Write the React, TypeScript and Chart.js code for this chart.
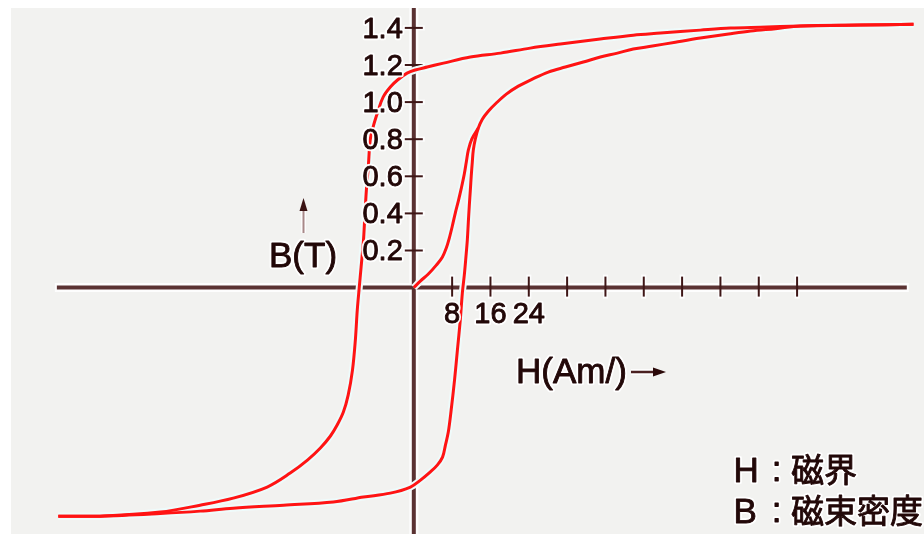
import { useEffect, useRef } from "react";
import { Chart, registerables } from "chart.js";

Chart.register(...registerables);

// Hysteresis loop of a soft magnetic material: H in A/m, B in T.
// Descending branch, from positive saturation down to negative saturation.
const descendingH = [104.3, 93.2, 80.7, 72.3, 66.1, 59.8, 51.5, 45.8, 38.9, 30.6, 24.3, 18.1, 11.8, 6.2, 2.8, 0.3, -1.4, -3.4, -4.9, -6.4, -7.4, -8.5, -9.1, -9.5, -9.9, -10.3, -10.5, -11.0, -11.4, -11.8, -12.2, -12.8, -13.7, -14.7, -16.0, -17.4, -19.5, -22.2, -25.8, -30.6, -37.7, -44.6, -52.9, -65.5, -74.2];
const descendingB = [1.42, 1.415, 1.41, 1.404, 1.399, 1.388, 1.372, 1.361, 1.34, 1.313, 1.291, 1.264, 1.243, 1.21, 1.189, 1.173, 1.156, 1.119, 1.081, 1.027, 0.957, 0.865, 0.795, 0.65, 0.526, 0.348, 0.256, 0.111, -0.003, -0.121, -0.283, -0.445, -0.58, -0.671, -0.741, -0.8, -0.865, -0.93, -1.0, -1.075, -1.135, -1.173, -1.21, -1.232, -1.232];

// Ascending branch, from negative saturation back up to positive saturation.
const ascendingH = [-74.2, -65.5, -52.9, -44.6, -37.7, -27.2, -16.8, -10.5, -4.9, -0.7, 1.4, 3.4, 4.9, 6.0, 6.6, 7.2, 7.8, 8.5, 9.1, 9.7, 10.13, 10.54, 10.86, 11.17, 11.38, 11.59, 11.8, 12.0, 12.21, 12.42, 12.84, 13.47, 14.3, 15.55, 17.22, 19.31, 21.82, 24.74, 28.08, 31.63, 35.39, 38.94, 42.5, 45.8, 49.8, 54.6, 59.8, 65.7, 70.3, 75.5, 80.7, 93.2, 104.3];
const ascendingB = [-1.232, -1.232, -1.218, -1.205, -1.189, -1.173, -1.156, -1.129, -1.108, -1.075, -1.038, -0.995, -0.957, -0.914, -0.849, -0.779, -0.66, -0.499, -0.337, -0.175, -0.03, 0.067, 0.159, 0.256, 0.353, 0.445, 0.526, 0.606, 0.677, 0.741, 0.801, 0.86, 0.908, 0.951, 0.995, 1.043, 1.086, 1.124, 1.162, 1.189, 1.216, 1.243, 1.264, 1.286, 1.302, 1.323, 1.345, 1.367, 1.383, 1.396, 1.41, 1.415, 1.42];

// Initial magnetisation curve from the demagnetised state.
const initialH = [0, 1.36, 3.03, 4.7, 5.95, 6.78, 7.41, 8.04, 8.66, 9.29, 9.92, 10.54, 10.96, 11.38, 12.1, 13.47];
const initialB = [0, 0.035, 0.073, 0.121, 0.164, 0.213, 0.267, 0.332, 0.402, 0.466, 0.536, 0.612, 0.677, 0.741, 0.801, 0.86];

// Axis ticks and labels
const hTickValues = [8, 16, 24, 32, 40, 48, 56, 64, 72, 80];
const hTickLabels = ["8", "16", "24"];
const bTickValues = [0.2, 0.4, 0.6, 0.8, 1.0, 1.2, 1.4];
const bTickLabels = ["0.2", "0.4", "0.6", "0.8", "1.0", "1.2", "1.4"];
const hAxisTitle = "H(Am/)";
const bAxisTitle = "B(T)";
const legendKeys = ["H", "B"];
const legendNames = ["磁界", "磁束密度"];

// Visible extent of the two axis lines (data units)
const H_AXIS_FROM = -74.5;
const H_AXIS_TO = 102.9;
const B_AXIS_FROM = 1.507;
const B_AXIS_TO = -1.33;

// Scale ranges
const H_MIN = -86.37;
const H_MAX = 106.49;
const B_MIN = -1.3283;
const B_MAX = 1.5504;

const RED = "#ff1414";
const HALO = "#effbfb";
const AXIS = "#5a3232";
const INK = "#220808";
const LATIN = '"Liberation Sans", Arial, sans-serif';
const CJK = '"Noto Sans CJK JP", "Noto Sans CJK SC", sans-serif';

const zip = (xs: number[], ys: number[]) => xs.map((x, i) => ({ x, y: ys[i] }));

// Text with a light outline, slightly emboldened
function haloText(ctx: CanvasRenderingContext2D, text: string, x: number, y: number) {
  ctx.lineJoin = "round";
  ctx.lineWidth = 4.5;
  ctx.strokeStyle = "rgba(255,255,255,0.95)";
  ctx.strokeText(text, x, y);
  ctx.fillStyle = INK;
  ctx.fillText(text, x, y);
  ctx.lineWidth = 0.9;
  ctx.strokeStyle = INK;
  ctx.strokeText(text, x, y);
}

function seg(ctx: CanvasRenderingContext2D, x1: number, y1: number, x2: number, y2: number, color: string, w: number) {
  ctx.beginPath();
  ctx.moveTo(x1, y1);
  ctx.lineTo(x2, y2);
  ctx.strokeStyle = color;
  ctx.lineWidth = w;
  ctx.stroke();
}

const crossAxes = {
  id: "crossAxes",
  beforeDraw(chart: any) {
    const { ctx, width, height } = chart;
    ctx.save();
    ctx.fillStyle = "#ffffff";
    ctx.fillRect(0, 0, width, height);
    ctx.fillStyle = "#f2f2f0";
    ctx.fillRect(11, 8, width - 11, height - 8);
    ctx.restore();
  },
  beforeDatasetsDraw(chart: any) {
    const { ctx } = chart;
    const X = chart.scales.x;
    const Y = chart.scales.y;
    const ox = X.getPixelForValue(0);
    const oy = Y.getPixelForValue(0);
    const xa = X.getPixelForValue(H_AXIS_FROM);
    const xb = X.getPixelForValue(H_AXIS_TO);
    const ya = Y.getPixelForValue(B_AXIS_FROM);
    const yb = Y.getPixelForValue(B_AXIS_TO);
    ctx.save();
    ctx.lineCap = "butt";
    // white halo behind the axes
    seg(ctx, xa - 2, oy, xb + 2, oy, "#fdfdfd", 9);
    seg(ctx, ox, ya, ox, yb, "#fdfdfd", 9);
    hTickValues.forEach((v) => {
      const px = X.getPixelForValue(v);
      seg(ctx, px, oy - 13, px, oy + 11, "#fdfdfd", 5);
    });
    bTickValues.forEach((v) => {
      const py = Y.getPixelForValue(v);
      seg(ctx, ox - 11, py, ox + 11, py, "#fdfdfd", 5);
    });
    // axis lines
    seg(ctx, xa, oy, xb, oy, AXIS, 4);
    seg(ctx, ox, ya, ox, yb, AXIS, 4);
    hTickValues.forEach((v) => {
      const px = X.getPixelForValue(v);
      seg(ctx, px, oy - 11, px, oy + 9, "#3e1616", 2);
    });
    bTickValues.forEach((v) => {
      const py = Y.getPixelForValue(v);
      seg(ctx, ox - 9, py, ox + 9, py, "#3e1616", 2);
    });
    ctx.restore();
  },
  afterDatasetsDraw(chart: any) {
    const { ctx } = chart;
    const X = chart.scales.x;
    const Y = chart.scales.y;
    const ox = X.getPixelForValue(0);
    const oy = Y.getPixelForValue(0);
    ctx.save();
    // B tick labels
    ctx.font = `29px ${LATIN}`;
    ctx.textAlign = "right";
    ctx.textBaseline = "alphabetic";
    bTickValues.forEach((v, i) => {
      haloText(ctx, bTickLabels[i], ox - 11, Y.getPixelForValue(v) + 10);
    });
    // H tick labels
    ctx.textAlign = "center";
    hTickLabels.forEach((t, i) => {
      haloText(ctx, t, X.getPixelForValue(hTickValues[i]), oy + 35);
    });
    // Axis titles
    ctx.font = `35px ${LATIN}`;
    ctx.textAlign = "left";
    haloText(ctx, bAxisTitle, 269, 267);
    haloText(ctx, hAxisTitle, 516, 383);

    // arrow above B(T)
    ctx.lineCap = "butt";
    seg(ctx, 303.5, 233, 303.5, 207, "#fdfdfd", 5);
    seg(ctx, 303.5, 233, 303.5, 208, "#a88888", 2);
    ctx.beginPath();
    ctx.moveTo(303.5, 198);
    ctx.lineTo(307.5, 211);
    ctx.lineTo(299.5, 211);
    ctx.closePath();
    ctx.fillStyle = "#3a1212";
    ctx.fill();

    // arrow after H title
    seg(ctx, 631, 372, 656, 372, "#fdfdfd", 6);
    seg(ctx, 631, 372, 656, 372, "#4a2020", 2.5);
    ctx.beginPath();
    ctx.moveTo(666, 372);
    ctx.lineTo(653, 367.5);
    ctx.lineTo(653, 376.5);
    ctx.closePath();
    ctx.fillStyle = "#2a0808";
    ctx.fill();

    // key
    const baselines = [482, 523];
    legendKeys.forEach((k, i) => {
      ctx.font = `35px ${LATIN}`;
      ctx.textAlign = "left";
      haloText(ctx, k, 733.5, baselines[i]);
      ctx.textAlign = "center";
      haloText(ctx, ":", 776.5, baselines[i] - 1);
      ctx.font = `33px ${CJK}`;
      ctx.textAlign = "left";
      ctx.textBaseline = "middle";
      haloText(ctx, legendNames[i], 791, baselines[i] - 13);
      ctx.textBaseline = "alphabetic";
    });
    ctx.restore();
  },
};

function branch(label: string, xs: number[], ys: number[]) {
  const data = zip(xs, ys);
  return [
    {
      label: label + " halo",
      data,
      showLine: true,
      borderColor: HALO,
      borderWidth: 7,
      pointRadius: 0,
      tension: 0.35,
      order: 2,
    },
    {
      label,
      data,
      showLine: true,
      borderColor: RED,
      borderWidth: 3,
      pointRadius: 0,
      tension: 0.35,
      order: 1,
    },
  ];
}

export default function App() {
  const ref = useRef<HTMLCanvasElement>(null);
  useEffect(() => {
    document.body.style.margin = "0";
    const chart = new Chart(ref.current!, {
      type: "scatter",
      data: {
        datasets: [
          ...branch("descending", descendingH, descendingB),
          ...branch("ascending", ascendingH, ascendingB),
          ...branch("initial", initialH, initialB),
        ] as any,
      },
      options: {
        animation: false,
        responsive: false,
        devicePixelRatio: 1,
        layout: { padding: 0 },
        plugins: { legend: { display: false }, tooltip: { enabled: false } },
        scales: {
          x: { type: "linear", display: false, min: H_MIN, max: H_MAX },
          y: { type: "linear", display: false, min: B_MIN, max: B_MAX },
        },
      },
      plugins: [crossAxes],
    });
    return () => chart.destroy();
  }, []);
  return (
    <div style={{ position: "absolute", left: 0, top: 0, width: 924, height: 534 }}>
      <canvas ref={ref} width={924} height={534} style={{ display: "block" }} />
    </div>
  );
}
